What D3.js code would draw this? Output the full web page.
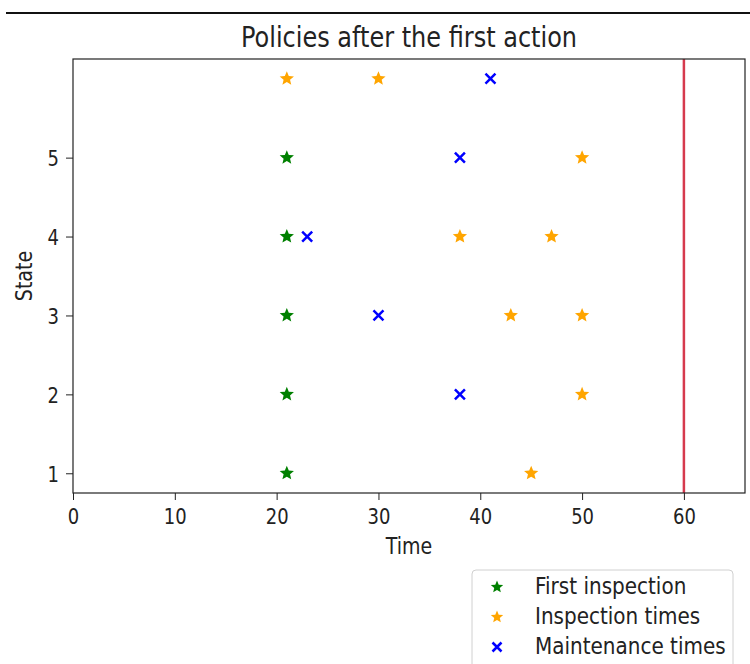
<!DOCTYPE html>
<html>
<head>
<meta charset="utf-8">
<script src="https://cdn.jsdelivr.net/npm/d3@7"></script>
<style>
  html, body { margin: 0; padding: 0; background: #fff; }
  svg { display: block; font-family: "DejaVu Sans", sans-serif; }
</style>
</head>
<body>
<svg id="chart" width="750" height="664"></svg>
<script>
// Policy data: state index and event time
const firstInspection = [
  { state: 5, time: 21 }, { state: 4, time: 21 }, { state: 3, time: 21 },
  { state: 2, time: 21 }, { state: 1, time: 21 }
];
const inspectionTimes = [
  { state: 6, time: 21 }, { state: 6, time: 30 },
  { state: 5, time: 50 },
  { state: 4, time: 38 }, { state: 4, time: 47 },
  { state: 3, time: 43 }, { state: 3, time: 50 },
  { state: 2, time: 50 },
  { state: 1, time: 45 }
];
const maintenanceTimes = [
  { state: 6, time: 41 }, { state: 5, time: 38 }, { state: 4, time: 23 },
  { state: 3, time: 30 }, { state: 2, time: 38 }
];
const horizon = 60;
const xTicks = [0, 10, 20, 30, 40, 50, 60];
const yTicks = [1, 2, 3, 4, 5];
const legendLabels = ["First inspection", "Inspection times", "Maintenance times"];

const svg = d3.select("#chart");
const plot = { left: 73, right: 745, top: 59, bottom: 493 };
const stretch = 1.18; // glyphs are drawn slightly taller than wide

const x = d3.scaleLinear().domain([0, 66]).range([plot.left, plot.right]);
const y = d3.scaleLinear().domain([0.75, 6.25]).range([plot.bottom, plot.top]);

// Text placed at (px, py) baseline, vertically stretched
function label(parent, px, py, str, size, anchor, rotate) {
  const g = parent.append("g")
    .attr("transform", `translate(${px},${py})` + (rotate ? ` rotate(${rotate})` : ""));
  g.append("text")
    .attr("transform", `scale(1,${stretch})`)
    .attr("text-anchor", anchor || "start")
    .attr("font-size", size).attr("fill", "#222")
    .text(str);
  return g;
}

// Rule at the top of the canvas
svg.append("line")
  .attr("x1", 6).attr("x2", 750).attr("y1", 13).attr("y2", 13)
  .attr("stroke", "#111").attr("stroke-width", 2);

// Title
label(svg, (plot.left + plot.right) / 2, 47, "Policies after the first action", 24, "middle");

// Horizon marker
svg.append("line")
  .attr("x1", x(horizon)).attr("x2", x(horizon))
  .attr("y1", plot.top).attr("y2", plot.bottom)
  .attr("stroke", "#d63a4e").attr("stroke-width", 2.5);

// Marker shapes
function starPath(r) {
  const pts = [];
  for (let i = 0; i < 10; i++) {
    const a = -Math.PI / 2 + i * Math.PI / 5;
    const rr = i % 2 === 0 ? r : r * 0.45;
    pts.push([rr * Math.cos(a), rr * Math.sin(a)]);
  }
  return "M" + pts.map(p => p[0].toFixed(2) + "," + p[1].toFixed(2)).join("L") + "Z";
}
function xPath(r) {
  return `M${-r},${-r}L${r},${r}M${-r},${r}L${r},${-r}`;
}
const star = starPath(7.5);
const cross = xPath(5);

const marks = svg.append("g");
marks.selectAll(".first").data(firstInspection).join("path")
  .attr("class", "first")
  .attr("d", star)
  .attr("transform", d => `translate(${x(d.time)},${y(d.state)})`)
  .attr("fill", "green");
marks.selectAll(".insp").data(inspectionTimes).join("path")
  .attr("class", "insp")
  .attr("d", star)
  .attr("transform", d => `translate(${x(d.time)},${y(d.state)})`)
  .attr("fill", "orange");
marks.selectAll(".maint").data(maintenanceTimes).join("path")
  .attr("class", "maint")
  .attr("d", cross)
  .attr("transform", d => `translate(${x(d.time)},${y(d.state)})`)
  .attr("fill", "none").attr("stroke", "blue").attr("stroke-width", 2.5);

// Axes frame
svg.append("rect")
  .attr("x", plot.left).attr("y", plot.top)
  .attr("width", plot.right - plot.left).attr("height", plot.bottom - plot.top)
  .attr("fill", "none").attr("stroke", "#222").attr("stroke-width", 1.2);

const xAxis = svg.append("g")
  .attr("transform", `translate(0,${plot.bottom})`)
  .call(d3.axisBottom(x).tickValues(xTicks).tickSize(7).tickFormat(d3.format("d")));
const yAxis = svg.append("g")
  .attr("transform", `translate(${plot.left},0)`)
  .call(d3.axisLeft(y).tickValues(yTicks).tickSize(7).tickFormat(d3.format("d")));
[xAxis, yAxis].forEach(g => {
  g.select(".domain").remove();
  g.selectAll("line").attr("stroke", "#222");
});
// Restyle tick labels with the stretched glyphs
xAxis.selectAll(".tick text").each(function () {
  const t = d3.select(this);
  t.attr("y", null).attr("dy", null)
    .attr("transform", `translate(0,31) scale(1,${stretch})`)
    .attr("font-size", 18).attr("fill", "#222")
    .attr("font-family", "DejaVu Sans, sans-serif");
});
yAxis.selectAll(".tick text").each(function () {
  const t = d3.select(this);
  t.attr("x", null).attr("dy", null)
    .attr("text-anchor", "end")
    .attr("transform", `translate(-14,8) scale(1,${stretch})`)
    .attr("font-size", 18).attr("fill", "#222")
    .attr("font-family", "DejaVu Sans, sans-serif");
});

// Axis labels
label(svg, (plot.left + plot.right) / 2, 554, "Time", 19, "middle");
label(svg, 32, (plot.top + plot.bottom) / 2, "State", 19, "middle", -90);

// Legend
const legend = svg.append("g").attr("transform", "translate(472,570)");
legend.append("rect")
  .attr("x", 0).attr("y", 0).attr("width", 261).attr("height", 110)
  .attr("rx", 4).attr("fill", "#fff").attr("stroke", "#d0d0d0");
const legendItems = [
  { label: legendLabels[0], kind: "star", color: "green" },
  { label: legendLabels[1], kind: "star", color: "orange" },
  { label: legendLabels[2], kind: "x", color: "blue" }
];
legendItems.forEach((d, i) => {
  const cy = 17 + i * 30;
  legend.append("path")
    .attr("d", d.kind === "star" ? starPath(6.5) : xPath(4.5))
    .attr("transform", `translate(25,${cy})`)
    .attr("fill", d.kind === "star" ? d.color : "none")
    .attr("stroke", d.kind === "x" ? d.color : "none")
    .attr("stroke-width", 2.5);
  label(legend, 63, cy + 7, d.label, 20, "start");
});
</script>
</body>
</html>
